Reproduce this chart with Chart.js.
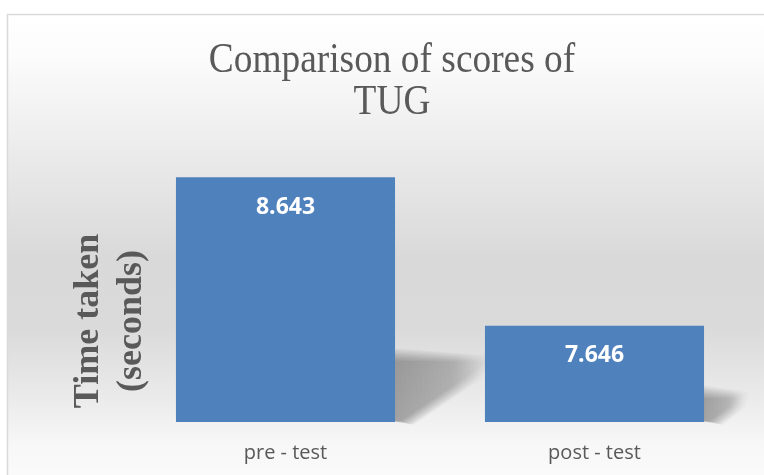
<!DOCTYPE html>
<html>
<head>
<meta charset="utf-8">
<script src="https://cdn.jsdelivr.net/npm/chart.js@4.4.0/dist/chart.umd.min.js"></script>
<style>
  html, body { margin: 0; padding: 0; background: #fff; }
  #wrap { width: 764px; height: 475px; }
</style>
</head>
<body>
<div id="wrap"><canvas id="tugChart"></canvas></div>
<script>
var categories = ['pre - test', 'post - test'];
var timeTaken = [8.643, 7.646];
var chartTitle = ['Comparison of scores of', 'TUG'];
var axisTitle = ['Time taken', '(seconds)'];
var axisMin = 7;
var axisMax = 9;

var serif = '"Liberation Serif", "Times New Roman", serif';
var sans = '"Open Sans", "Noto Sans", sans-serif';

// perspective shadow to the right of a bar, softened by stacking widened copies
function drawBarShadow(ctx, bar, floorY) {
    var r = bar.x + bar.width / 2;
    var b = Math.min(bar.base, floorY);   // bars are clipped at the axis floor
    var h = b - bar.y;
    if (!isFinite(r) || !isFinite(h) || h <= 0) return;
    var n = 10;
    for (var k = 0; k < n; k++) {
        var e = (n - 1 - k) * 1.4;
        var g = ctx.createLinearGradient(r, 0, r + 0.37 * h + e, 0);
        g.addColorStop(0, 'rgba(0,0,0,0.038)');
        g.addColorStop(0.6, 'rgba(0,0,0,0.026)');
        g.addColorStop(1, 'rgba(0,0,0,0)');
        ctx.fillStyle = g;
        ctx.beginPath();
        ctx.moveTo(r - 4, b - 1);
        ctx.lineTo(r - 4, b - 0.25 * h - e);
        ctx.lineTo(r + 0.37 * h + e, b - 0.245 * h - e * 0.5);
        ctx.lineTo(r + 0.3 * h + e, b - 0.19 * h + e * 0.3);
        ctx.lineTo(r + 6 + e, b - 1 + e * 0.3);
        ctx.closePath();
        ctx.fill();
    }
}

// panel background with soft vertical gradient, thin frame and bar shadows
var panelBg = {
    id: 'panelBg',
    beforeDraw: function (chart) {
        var ctx = chart.ctx;
        ctx.save();
        ctx.fillStyle = '#ffffff';
        ctx.fillRect(0, 0, chart.width, chart.height);
        var g = ctx.createLinearGradient(0, 14, 0, 475);
        g.addColorStop(0, '#ffffff');
        g.addColorStop(0.1, '#fbfbfb');
        g.addColorStop(0.3, '#ebebeb');
        g.addColorStop(0.53, '#d9d9d9');
        g.addColorStop(0.68, '#dadada');
        g.addColorStop(0.82, '#e9e9e9');
        g.addColorStop(0.93, '#f7f7f7');
        g.addColorStop(1, '#fafafa');
        ctx.fillStyle = g;
        ctx.fillRect(7, 14, chart.width, chart.height);
        ctx.strokeStyle = '#d9d9d9';
        ctx.lineWidth = 1.5;
        ctx.strokeRect(7.5, 14.5, chart.width + 10, chart.height + 10);

        var floorY = chart.chartArea.bottom;
        chart.getDatasetMeta(0).data.forEach(function (bar) {
            drawBarShadow(ctx, bar, floorY);
        });
        ctx.restore();
    }
};

// value labels inside bars, chart title and the rotated two-line axis title
var labelsPlugin = {
    id: 'labelsPlugin',
    afterDatasetsDraw: function (chart) {
        var ctx = chart.ctx;
        var meta = chart.getDatasetMeta(0);
        ctx.save();
        ctx.fillStyle = '#ffffff';
        ctx.font = 'bold 23px ' + sans;
        ctx.textAlign = 'center';
        ctx.textBaseline = 'middle';
        meta.data.forEach(function (bar, i) {
            ctx.fillText(timeTaken[i].toFixed(3), bar.x, bar.y + 30);
        });
        ctx.restore();
    },
    afterDraw: function (chart) {
        var ctx = chart.ctx;
        ctx.save();
        ctx.fillStyle = '#595959';
        ctx.textAlign = 'center';
        ctx.textBaseline = 'alphabetic';

        // chart title (narrow serif look)
        ctx.font = '42px ' + serif;
        var titleBase = [72, 114];
        chartTitle.forEach(function (line, i) {
            ctx.save();
            ctx.translate(392, titleBase[i]);
            ctx.scale(0.89, 1);
            ctx.fillText(line, 0, 0);
            ctx.restore();
        });

        // y axis title
        ctx.font = 'bold 36px ' + serif;
        var baselines = [98, 141];
        axisTitle.forEach(function (line, i) {
            ctx.save();
            ctx.translate(baselines[i], 321);
            ctx.rotate(-Math.PI / 2);
            ctx.fillText(line, 0, 0);
            ctx.restore();
        });
        ctx.restore();
    }
};

var ctx = document.getElementById('tugChart').getContext('2d');
var tugChart = new Chart(ctx, {
    type: 'bar',
    data: {
        labels: categories,
        datasets: [{
            data: timeTaken,
            backgroundColor: '#4f81bd',
            borderWidth: 0,
            categoryPercentage: 1,
            barPercentage: 0.709
        }]
    },
    options: {
        responsive: true,
        maintainAspectRatio: false,
        animation: false,
        layout: {
            padding: { left: 131, right: 15, top: 124, bottom: 0 }
        },
        plugins: {
            legend: { display: false },
            tooltip: { enabled: false },
            title: { display: false }
        },
        scales: {
            x: {
                grid: { display: false, drawTicks: false },
                border: { display: false },
                ticks: {
                    color: '#595959',
                    padding: 19,
                    font: { family: sans, size: 20 }
                },
                afterFit: function (scale) {
                    scale.height = 53;
                }
            },
            y: {
                display: false,
                min: axisMin,
                max: axisMax
            }
        }
    },
    plugins: [panelBg, labelsPlugin]
});
</script>
</body>
</html>
